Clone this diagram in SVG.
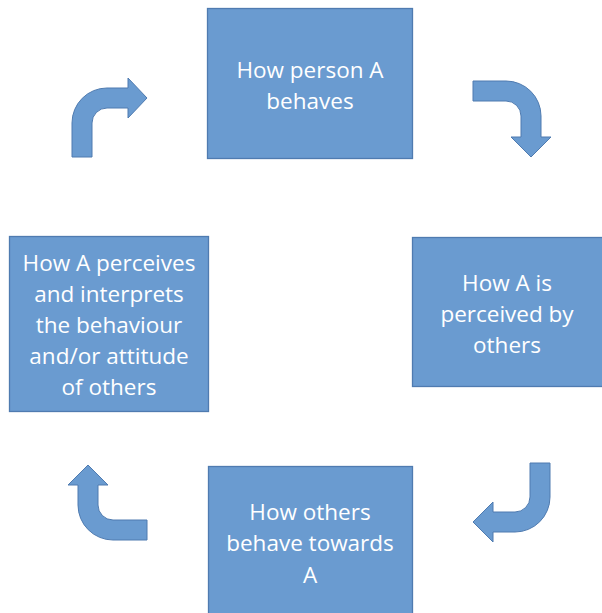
<svg xmlns="http://www.w3.org/2000/svg" width="602" height="613" viewBox="0 0 602 613">
<style>
.box{fill:#6a9bd0;stroke:#4f7bb0;stroke-width:1.3}
.arr{fill:#6a9bd0;stroke:#4f7bb0;stroke-width:1}
text{font-family:"Open Sans","Liberation Sans",sans-serif;font-size:22.5px;fill:#ffffff;text-anchor:middle}
</style>
<rect width="602" height="613" fill="#ffffff"/>
<g id="node-top">
<rect class="box" x="207.5" y="8.5" width="205" height="150"/>
<text x="310" y="78">How person A</text>
<text x="310" y="109">behaves</text>
</g>
<g id="node-right">
<rect class="box" x="412.5" y="237.5" width="192" height="149"/>
<text x="507" y="291">How A is</text>
<text x="507" y="322">perceived by</text>
<text x="507" y="353">others</text>
</g>
<g id="node-bottom">
<rect class="box" x="208.5" y="466.5" width="204" height="150"/>
<text x="310" y="520">How others</text>
<text x="310" y="551">behave towards</text>
<text x="310" y="583">A</text>
</g>
<g id="node-left">
<rect class="box" x="9.5" y="236.5" width="199" height="175"/>
<text x="109" y="271">How A perceives</text>
<text x="109" y="302">and interprets</text>
<text x="109" y="333">the behaviour</text>
<text x="109" y="364">and/or attitude</text>
<text x="109" y="395">of others</text>
</g>
<g id="connectors">
<path class="arr" d="M 72 157 L 72 123 A 35 35 0 0 1 107 88 L 128 88 L 128 78 L 147 98 L 128 118 L 128 108 L 107 108 A 15 15 0 0 0 92 123 L 92 157 Z"/>
<path class="arr" d="M 473 81 L 506 81 A 35 35 0 0 1 541 116 L 541 137 L 551 137 L 531 157 L 511 137 L 521 137 L 521 116 A 15 15 0 0 0 506 101 L 473 101 Z"/>
<path class="arr" d="M 550 463 L 550 497 A 35 35 0 0 1 515 532 L 493 532 L 493 542 L 473 522 L 493 502 L 493 512 L 515 512 A 15 15 0 0 0 530 497 L 530 463 Z"/>
<path class="arr" d="M 147 540 L 113 540 A 35 35 0 0 1 78 505 L 78 485 L 68 485 L 88 465 L 108 485 L 98 485 L 98 505 A 15 15 0 0 0 113 520 L 147 520 Z"/>
</g>
</svg>
